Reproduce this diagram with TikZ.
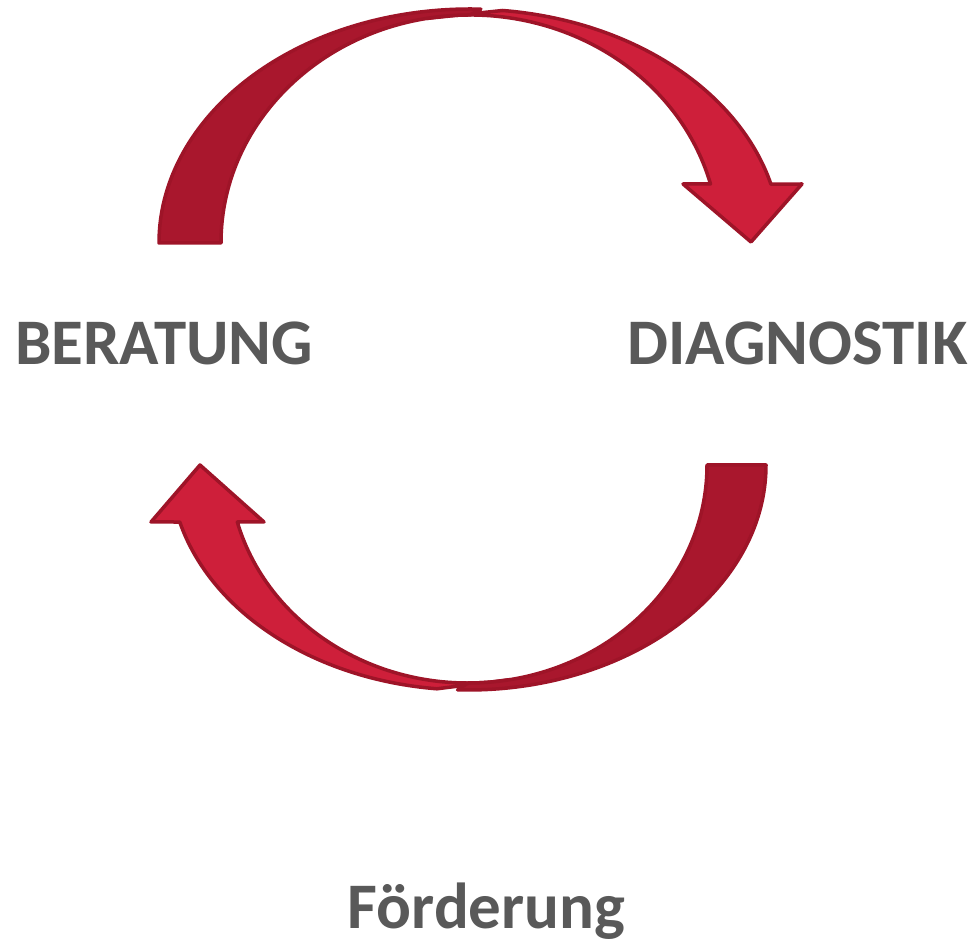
\documentclass[tikz,border=0pt]{standalone}
\usepackage{fontspec}
\setmainfont{Carlito}
\definecolor{lightred}{HTML}{CE1F3A}
\definecolor{darkred}{HTML}{A9172D}
\definecolor{edgered}{HTML}{9E1428}
\definecolor{txtgray}{HTML}{595959}
\begin{document}
\begin{tikzpicture}[x=1pt,y=1pt,
  lightband/.style={fill=lightred,draw=edgered,line width=3.5pt,line join=round},
  darkband/.style={fill=darkred,draw=edgered,line width=3.5pt,line join=round},
  label/.style={inner sep=0pt,anchor=base,text=txtgray,font=\fontsize{65}{78}\selectfont\bfseries}]
\useasboundingbox (0,0) rectangle (974,942);
% top arrow (centre 470,699)
\draw[lightband] (502.5,931.5) arc[start angle=84,end angle=14.6,x radius=311,y radius=234]
  -- (802,758) -- (751,700) -- (683,758) -- (710.5,758)
  arc[start angle=15,end angle=100,x radius=249,y radius=228] -- cycle;
\draw[darkband] (159,699) arc[start angle=180,end angle=88,x radius=311,y radius=234]
  -- (470,927) arc[start angle=90,end angle=180,x radius=249,y radius=228] -- cycle;
% bottom arrow (centre 468,477)
\draw[lightband] (436.9,253.2) arc[start angle=264,end angle=194.67,x radius=298,y radius=225]
  -- (151,420) -- (200,477) -- (264,420) -- (237.3,420)
  arc[start angle=195.16,end angle=280,x radius=239,y radius=218] -- cycle;
\draw[darkband] (766,477) arc[start angle=0,end angle=-92,x radius=298,y radius=225]
  -- (468,259) arc[start angle=-90,end angle=0,x radius=239,y radius=218] -- cycle;
% labels
\node[label] (beratung) at (164,577) {BERATUNG};
\node[label] (diagnostik) at (797.5,577) {DIAGNOSTIK};
\node[label] (foerderung) at (486.5,13) {Förderung};
\end{tikzpicture}
\end{document}
